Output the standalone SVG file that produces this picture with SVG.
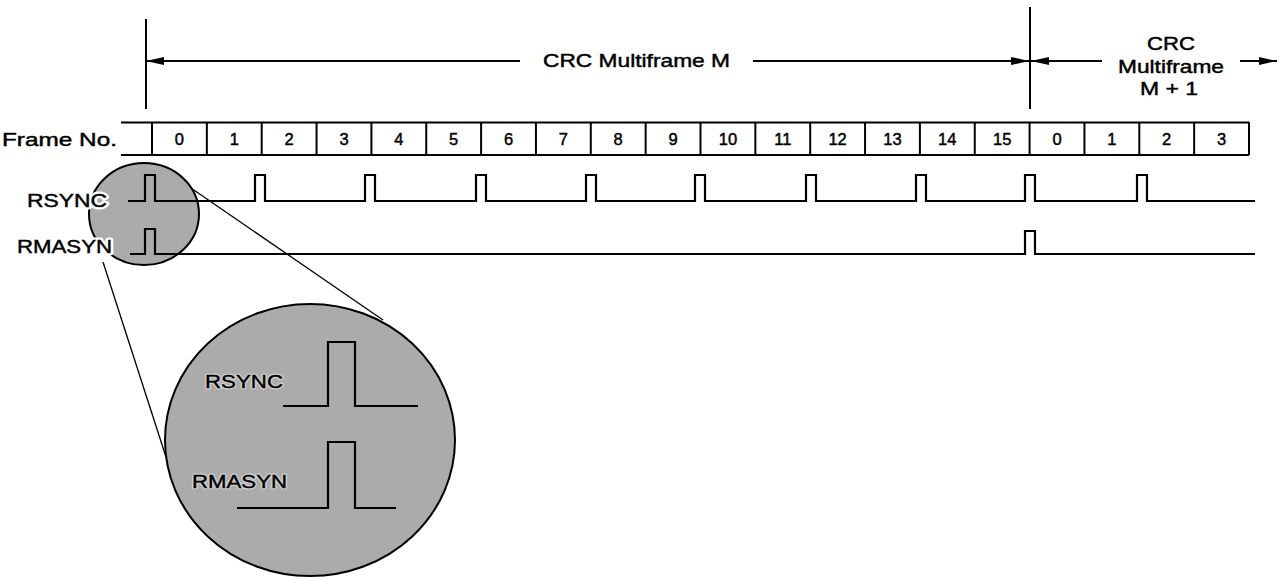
<svg xmlns="http://www.w3.org/2000/svg" width="1282" height="579" viewBox="0 0 1282 579">
<style>
  text { font-family: "Liberation Sans", Arial, sans-serif; fill: #000; stroke: #000; stroke-width: 0.45; }
  .ln { stroke: #000; stroke-width: 2; fill: none; }
  .thin { stroke: #000; stroke-width: 1.3; fill: none; }
  .sig { stroke: #000; stroke-width: 2.2; fill: none; stroke-linejoin: miter; }
  .num { font-size: 16.5px; text-anchor: middle; }
  .lbl { font-size: 19px; }
  .halo { fill: #fff; stroke: #fff; stroke-width: 5; stroke-linejoin: round; }
  .halo2 { fill: #d0d0d0; stroke: #d0d0d0; stroke-width: 3; stroke-linejoin: round; }
  .lens { fill: #ababab; stroke: #000; stroke-width: 2; }
</style>
<defs>
  <marker id="ah" viewBox="0 0 18 8" refX="18" refY="4" markerWidth="18" markerHeight="8" markerUnits="userSpaceOnUse" orient="auto-start-reverse">
    <path d="M0,0 L18,4 L0,8 z" fill="#000"/>
  </marker>
</defs>

<g id="connectors">
  <line class="ln" x1="146" y1="19" x2="146" y2="109"/>
  <line class="ln" x1="1030" y1="7" x2="1030" y2="109"/>
  <line class="ln" x1="146" y1="61" x2="520" y2="61" marker-start="url(#ah)"/>
  <line class="ln" x1="753" y1="61" x2="1029" y2="61" marker-end="url(#ah)"/>
  <line class="ln" x1="1031" y1="61" x2="1102" y2="61" marker-start="url(#ah)"/>
  <line class="ln" x1="1240" y1="61" x2="1277" y2="61" marker-end="url(#ah)"/>
  <line class="thin" x1="103" y1="262" x2="166" y2="457"/>
  <line class="thin" x1="172" y1="175" x2="383" y2="320"/>
</g>

<g id="label-multiframe-m">
  <text class="lbl" x="543" y="67" font-size="20" textLength="187" lengthAdjust="spacingAndGlyphs">CRC Multiframe M</text>
</g>
<g id="label-multiframe-m1">
  <text class="lbl" x="1171" y="50" text-anchor="middle" font-size="20" textLength="48" lengthAdjust="spacingAndGlyphs">CRC</text>
  <text class="lbl" x="1171" y="73" text-anchor="middle" font-size="20" textLength="106" lengthAdjust="spacingAndGlyphs">Multiframe</text>
  <text class="lbl" x="1169" y="95" text-anchor="middle" font-size="20" textLength="58" lengthAdjust="spacingAndGlyphs">M + 1</text>
</g>

<g id="frame-row">
  <text class="lbl" x="2" y="146" textLength="115" lengthAdjust="spacingAndGlyphs">Frame No.</text>
  <line class="ln" x1="121" y1="122.5" x2="1249" y2="122.5"/>
  <line class="ln" x1="121" y1="155" x2="1249" y2="155"/>
  <g class="ln">
    <line x1="152" y1="122" x2="152" y2="155"/>
    <line x1="206.85" y1="122" x2="206.85" y2="155"/>
    <line x1="261.7" y1="122" x2="261.7" y2="155"/>
    <line x1="316.55" y1="122" x2="316.55" y2="155"/>
    <line x1="371.4" y1="122" x2="371.4" y2="155"/>
    <line x1="426.25" y1="122" x2="426.25" y2="155"/>
    <line x1="481.1" y1="122" x2="481.1" y2="155"/>
    <line x1="535.95" y1="122" x2="535.95" y2="155"/>
    <line x1="590.8" y1="122" x2="590.8" y2="155"/>
    <line x1="645.65" y1="122" x2="645.65" y2="155"/>
    <line x1="700.5" y1="122" x2="700.5" y2="155"/>
    <line x1="755.35" y1="122" x2="755.35" y2="155"/>
    <line x1="810.2" y1="122" x2="810.2" y2="155"/>
    <line x1="865.05" y1="122" x2="865.05" y2="155"/>
    <line x1="919.9" y1="122" x2="919.9" y2="155"/>
    <line x1="974.75" y1="122" x2="974.75" y2="155"/>
    <line x1="1029.6" y1="122" x2="1029.6" y2="155"/>
    <line x1="1084.45" y1="122" x2="1084.45" y2="155"/>
    <line x1="1139.3" y1="122" x2="1139.3" y2="155"/>
    <line x1="1194.15" y1="122" x2="1194.15" y2="155"/>
    <line x1="1249" y1="122" x2="1249" y2="155"/>
  </g>
  <text class="num" x="179.4" y="145">0</text>
  <text class="num" x="234.3" y="145">1</text>
  <text class="num" x="289.1" y="145">2</text>
  <text class="num" x="344" y="145">3</text>
  <text class="num" x="398.8" y="145">4</text>
  <text class="num" x="453.7" y="145">5</text>
  <text class="num" x="508.5" y="145">6</text>
  <text class="num" x="563.4" y="145">7</text>
  <text class="num" x="618.2" y="145">8</text>
  <text class="num" x="673.1" y="145">9</text>
  <text class="num" x="727.9" y="145">10</text>
  <text class="num" x="782.8" y="145">11</text>
  <text class="num" x="837.6" y="145">12</text>
  <text class="num" x="892.5" y="145">13</text>
  <text class="num" x="947.3" y="145">14</text>
  <text class="num" x="1002.2" y="145">15</text>
  <text class="num" x="1057" y="145">0</text>
  <text class="num" x="1111.9" y="145">1</text>
  <text class="num" x="1166.7" y="145">2</text>
  <text class="num" x="1221.6" y="145">3</text>
</g>

<g id="small-lens">
  <ellipse class="lens" cx="144" cy="214" rx="55" ry="51"/>
</g>

<g id="rsync">
  <text class="lbl halo" x="27" y="207" textLength="80" lengthAdjust="spacingAndGlyphs">RSYNC</text>
  <text class="lbl" x="27" y="207" textLength="80" lengthAdjust="spacingAndGlyphs">RSYNC</text>
  <path class="sig" d="M128,201 H145 V175 H155 V201 H255 V175 H265 V201 H365 V175 H375 V201 H476 V175 H486 V201 H586 V175 H596 V201 H695 V175 H705 V201 H806 V175 H816 V201 H916 V175 H926 V201 H1025 V175 H1035 V201 H1137 V175 H1147 V201 H1255"/>
</g>

<g id="rmasyn">
  <text class="lbl halo" x="17" y="253" textLength="95" lengthAdjust="spacingAndGlyphs">RMASYN</text>
  <text class="lbl" x="17" y="253" textLength="95" lengthAdjust="spacingAndGlyphs">RMASYN</text>
  <path class="sig" d="M130,254 H145 V229 H155 V254 H1025 V231 H1035 V254 H1255"/>
</g>

<g id="big-lens">
  <ellipse class="lens" cx="310" cy="440" rx="145" ry="136"/>
  <text class="lbl halo2" x="205" y="388" font-size="20" textLength="78" lengthAdjust="spacingAndGlyphs">RSYNC</text>
  <text class="lbl" x="205" y="388" font-size="20" textLength="78" lengthAdjust="spacingAndGlyphs">RSYNC</text>
  <path class="sig" d="M283,406 H328 V342 H355 V406 H418"/>
  <text class="lbl halo2" x="192" y="488" font-size="20" textLength="95" lengthAdjust="spacingAndGlyphs">RMASYN</text>
  <text class="lbl" x="192" y="488" font-size="20" textLength="95" lengthAdjust="spacingAndGlyphs">RMASYN</text>
  <path class="sig" d="M237,508 H328 V442 H355 V508 H396"/>
</g>
</svg>
